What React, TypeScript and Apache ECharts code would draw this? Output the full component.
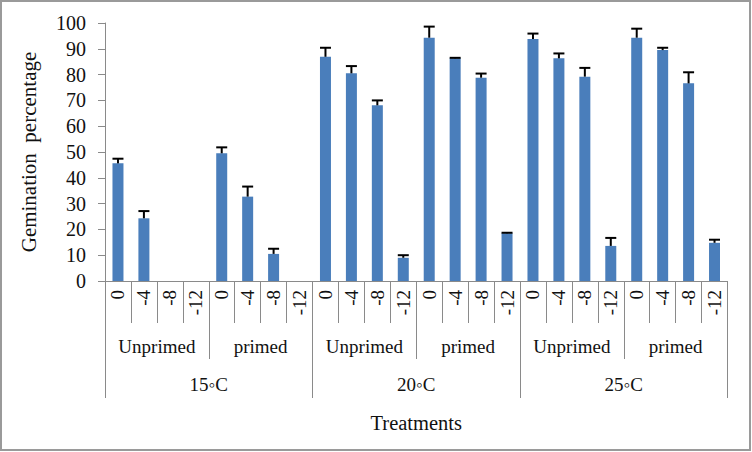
import React, { useEffect, useRef } from "react";
import * as echarts from "echarts";

const levels = ["0", "-4", "-8", "-12"];
const primingGroups = ["Unprimed", "primed"];
const temperatures = ["15◦C", "20◦C", "25◦C"];

const germination = [
  45.6, 24.3, 0, 0, 49.5, 32.7, 10.5, 0,
  86.9, 80.5, 68.1, 9.0, 94.3, 86.3, 78.8, 18.5,
  93.8, 86.3, 79.2, 13.6, 94.3, 89.5, 76.6, 14.8,
];
const errors = [
  1.8, 2.8, 0, 0, 2.3, 3.9, 2.0, 0,
  3.5, 2.8, 1.9, 1.0, 4.3, 0.2, 1.6, 0.2,
  2.1, 1.9, 3.4, 3.1, 3.5, 0.9, 4.3, 1.2,
];

const FONT = "Liberation Serif";
const AXIS_GRAY = "#8a8a8a";
const TEXT = "#111";

export default function App() {
  const ref = useRef<HTMLDivElement>(null);

  useEffect(() => {
    document.body.style.margin = "0";
    if (!ref.current) return;
    const chart = echarts.init(ref.current, undefined, { renderer: "svg" });

    const level1: string[] = [];
    const level2: string[] = [];
    temperatures.forEach(() => {
      primingGroups.forEach((p) => {
        level2.push(p);
        levels.forEach((l) => level1.push(l));
      });
    });

    const errData = germination.map((v, i) => [i, v, errors[i]]);

    const labelBase = { fontFamily: FONT, fontSize: 19, color: TEXT };

    chart.setOption({
      animation: false,
      backgroundColor: "#fff",
      textStyle: { fontFamily: FONT },
      grid: { left: 105, right: 24.5, top: 23, bottom: 171, containLabel: false },
      graphic: [
        {
          type: "rect",
          shape: { x: 1, y: 1, width: 749, height: 449 },
          style: { fill: "none", stroke: "#9a9a9a", lineWidth: 2 },
          silent: true,
        },
      ],
      xAxis: [
        {
          type: "category",
          position: "bottom",
          data: level1,
          axisLine: { show: true, lineStyle: { color: AXIS_GRAY, width: 1 } },
          axisTick: { show: true, length: 42, interval: 0, lineStyle: { color: AXIS_GRAY } },
          axisLabel: { ...labelBase, rotate: 90, margin: 9, interval: 0 },
          name: "Treatments",
          nameLocation: "middle",
          nameGap: 131,
          nameTextStyle: { ...labelBase, fontSize: 20.5 },
        },
        {
          type: "category",
          position: "bottom",
          data: level2,
          axisLine: { show: false },
          axisTick: { show: true, length: 78, interval: 0, lineStyle: { color: AXIS_GRAY } },
          axisLabel: { ...labelBase, margin: 56, interval: 0 },
        },
        {
          type: "category",
          position: "bottom",
          data: temperatures,
          axisLine: { show: false },
          axisTick: { show: true, length: 117, interval: 0, lineStyle: { color: AXIS_GRAY } },
          axisLabel: { ...labelBase, margin: 94, interval: 0 },
        },
      ],
      yAxis: {
        type: "value",
        min: 0,
        max: 100,
        interval: 10,
        axisLine: { show: true, lineStyle: { color: AXIS_GRAY } },
        axisTick: { show: true, length: 7, lineStyle: { color: AXIS_GRAY } },
        splitLine: { show: false },
        axisLabel: { ...labelBase, fontSize: 20, margin: 19 },
        name: "Gemination  percentage",
        nameLocation: "middle",
        nameGap: 66,
        nameRotate: 90,
        nameTextStyle: { ...labelBase, fontSize: 21 },
      },
      series: [
        {
          type: "bar",
          xAxisIndex: 0,
          yAxisIndex: 0,
          data: germination,
          barWidth: 11,
          itemStyle: { color: "#4a7ebb" },
        },
        {
          type: "custom",
          xAxisIndex: 0,
          yAxisIndex: 0,
          data: errData,
          encode: { x: 0, y: 1 },
          z: 5,
          renderItem: (params: any, api: any) => {
            const i = api.value(0);
            const v = api.value(1);
            const e = api.value(2);
            if (!(v > 0)) return null;
            const p0 = api.coord([i, v]);
            const p1 = api.coord([i, v + e]);
            const hw = 5.5;
            const style = { stroke: "#000", lineWidth: 2 };
            return {
              type: "group",
              children: [
                { type: "line", shape: { x1: p0[0], y1: p0[1], x2: p1[0], y2: p1[1] }, style },
                { type: "line", shape: { x1: p1[0] - hw, y1: p1[1], x2: p1[0] + hw, y2: p1[1] }, style },
              ],
            };
          },
        },
      ],
    });

    return () => chart.dispose();
  }, []);

  return (
    <div
      ref={ref}
      style={{ position: "absolute", left: 0, top: 0, width: 752, height: 452 }}
    />
  );
}
